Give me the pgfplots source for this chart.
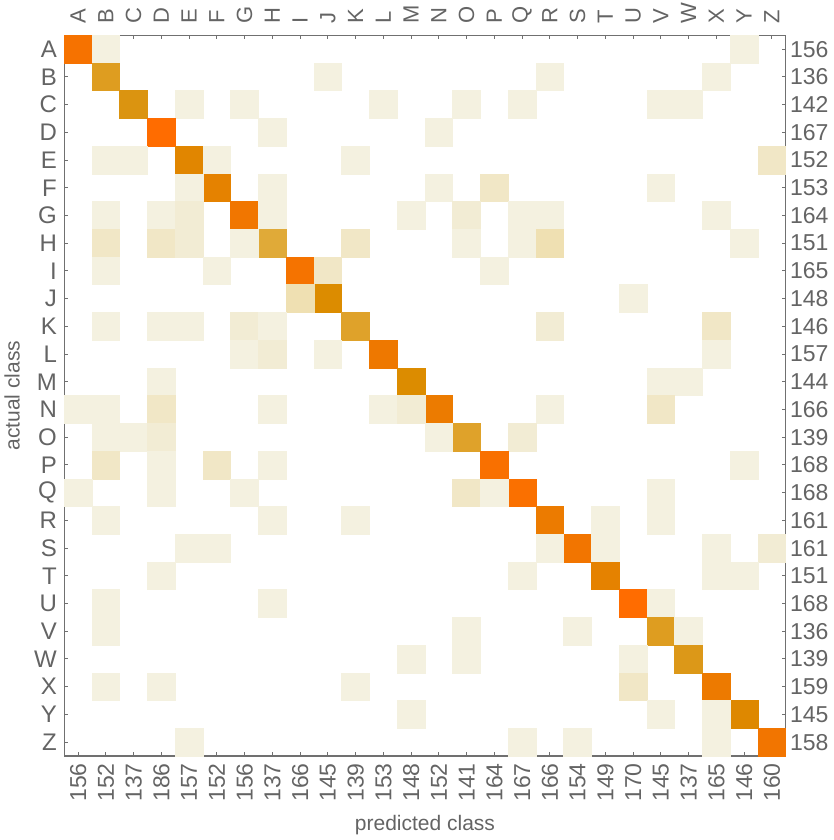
\documentclass[border=0pt]{standalone}
\usepackage{fontspec}
\setmainfont{Liberation Sans}
\usepackage{pgfplots}
\pgfplotsset{compat=1.18}

\definecolor{framegray}{RGB}{112,112,112}
\definecolor{labelgray}{RGB}{100,100,100}

% count -> colour, white for 0, pale for stray errors, gold to orange on the diagonal
\pgfplotsset{
  colormap={confusion}{
    rgb255(0pt)=(255,255,255);
    rgb255(1pt)=(244,241,224);
    rgb255(2pt)=(242,236,212);
    rgb255(3pt)=(241,231,198);
    rgb255(4pt)=(239,224,178);
    rgb255(130pt)=(224,170,56);
    rgb255(132pt)=(223,162,42);
    rgb255(134pt)=(222,157,32);
    rgb255(136pt)=(219,148,16);
    rgb255(140pt)=(220,140,0);
    rgb255(142pt)=(222,136,0);
    rgb255(144pt)=(225,134,0);
    rgb255(146pt)=(229,130,0);
    rgb255(150pt)=(236,123,0);
    rgb255(154pt)=(241,118,0);
    rgb255(158pt)=(246,114,0);
    rgb255(162pt)=(250,112,0);
    rgb255(166pt)=(255,108,0)
  }
}

\begin{document}
\begin{tikzpicture}
\path[use as bounding box] (-32.15pt,-42pt) rectangle (384.85pt,378pt);

\begin{axis}[
  at={(0,0)}, anchor=south west,
  scale only axis, width=360.7pt, height=360.35pt,
  xmin=-0.5, xmax=25.5, ymin=-0.5, ymax=25.5,
  y dir=reverse,
  axis on top,
  colormap name=confusion,
  point meta min=0, point meta max=166,
  axis line style={framegray, line width=0.6pt},
  tick pos=both,
  tick align=inside,
  major tick length=2pt,
  tick style={framegray, line width=0.5pt},
  xtick={0,...,25}, ytick={0,...,25},
  xticklabel pos=upper, yticklabel pos=left,
  xticklabels={A,B,C,D,E,F,G,H,I,J,K,L,M,N,O,P,Q,R,S,T,U,V,W,X,Y,Z},
  yticklabels={A,B,C,D,E,F,G,H,I,J,K,L,M,N,O,P,Q,R,S,T,U,V,W,X,Y,Z},
  xticklabel style={rotate=90, anchor=west, inner sep=0pt, text=labelgray, font=\fontsize{11}{13}\selectfont},
  yticklabel style={anchor=east, inner sep=0pt, text=labelgray, font=\fontsize{12}{14}\selectfont},
  xticklabel shift=5.5pt, yticklabel shift=3.5pt,
  ylabel={actual class},
  ylabel style={at={(axis description cs:-0.061,0.5)}, anchor=south, inner sep=0pt, text=labelgray, font=\fontsize{10.5}{12}\selectfont},
]
\addplot[scatter, only marks, mark=square*, mark size=6.935pt,
  point meta=explicit,
  scatter/use mapped color={draw=mapped color, fill=mapped color},
  mark options={line width=0.3pt}]
coordinates {
(0,0)[158] (1,0)[1] (24,0)[1]
(1,1)[134] (9,1)[1] (17,1)[1] (23,1)[1]
(2,2)[136] (4,2)[1] (6,2)[1] (11,2)[1] (14,2)[1] (16,2)[1] (21,2)[1] (22,2)[1]
(3,3)[166] (7,3)[1] (13,3)[1]
(4,4)[144] (1,4)[1] (2,4)[1] (5,4)[1] (10,4)[1] (25,4)[3]
(5,5)[146] (4,5)[1] (7,5)[1] (13,5)[1] (15,5)[3] (21,5)[1]
(6,6)[154] (1,6)[1] (3,6)[1] (4,6)[2] (7,6)[1] (12,6)[1] (14,6)[2] (16,6)[1] (17,6)[1] (23,6)[1]
(7,7)[130] (1,7)[3] (3,7)[3] (4,7)[2] (6,7)[1] (10,7)[3] (14,7)[1] (16,7)[1] (17,7)[4] (24,7)[1]
(8,8)[157] (1,8)[1] (5,8)[1] (9,8)[3] (15,8)[1]
(9,9)[140] (8,9)[4] (20,9)[1]
(10,10)[132] (1,10)[1] (3,10)[1] (4,10)[1] (6,10)[2] (7,10)[1] (17,10)[2] (23,10)[3]
(11,11)[152] (6,11)[1] (7,11)[2] (9,11)[1] (23,11)[1]
(12,12)[140] (3,12)[1] (21,12)[1] (22,12)[1]
(13,13)[150] (0,13)[1] (1,13)[1] (3,13)[3] (7,13)[1] (11,13)[1] (12,13)[2] (17,13)[1] (21,13)[3]
(14,14)[132] (1,14)[1] (2,14)[1] (3,14)[2] (13,14)[1] (16,14)[2]
(15,15)[161] (1,15)[3] (3,15)[1] (5,15)[3] (7,15)[1] (24,15)[1]
(16,16)[162] (0,16)[1] (3,16)[1] (6,16)[1] (14,16)[3] (15,16)[1] (21,16)[1]
(17,17)[150] (1,17)[1] (7,17)[1] (10,17)[1] (19,17)[1] (21,17)[1]
(18,18)[155] (4,18)[1] (5,18)[1] (17,18)[1] (19,18)[1] (23,18)[1] (25,18)[2]
(19,19)[146] (3,19)[1] (16,19)[1] (23,19)[1] (24,19)[1]
(20,20)[166] (1,20)[1] (7,20)[1] (21,20)[1]
(21,21)[134] (1,21)[1] (14,21)[1] (18,21)[1] (22,21)[1]
(22,22)[135] (12,22)[1] (14,22)[1] (20,22)[1]
(23,23)[151] (1,23)[1] (3,23)[1] (10,23)[1] (20,23)[3]
(24,24)[142] (12,24)[1] (21,24)[1] (23,24)[1]
(25,25)[155] (4,25)[1] (16,25)[1] (18,25)[1] (23,25)[1]
};
\end{axis}

% second axis on the same box: column totals below, row totals on the right
\begin{axis}[
  at={(0,0)}, anchor=south west,
  scale only axis, width=360.7pt, height=360.35pt,
  xmin=-0.5, xmax=25.5, ymin=-0.5, ymax=25.5,
  y dir=reverse,
  axis line style={draw=none},
  major tick length=0pt,
  xtick={0,...,25}, ytick={0,...,25},
  xticklabel pos=lower, yticklabel pos=right,
  xticklabels={156,152,137,186,157,152,156,137,166,145,139,153,148,152,141,164,167,166,154,149,170,145,137,165,146,160},
  yticklabels={156,136,142,167,152,153,164,151,165,148,146,157,144,166,139,168,168,161,161,151,168,136,139,159,145,158},
  xticklabel style={rotate=90, anchor=east, inner sep=0pt, text=labelgray, font=\fontsize{11.5}{13}\selectfont},
  yticklabel style={anchor=west, inner sep=0pt, text=labelgray, font=\fontsize{11.5}{13}\selectfont},
  xticklabel shift=3.5pt, yticklabel shift=2pt,
  xlabel={predicted class},
  xlabel style={at={(axis description cs:0.5,-0.0958)}, anchor=center, inner sep=0pt, text=labelgray, font=\fontsize{10.5}{12}\selectfont},
]
\end{axis}
\end{tikzpicture}
\end{document}
